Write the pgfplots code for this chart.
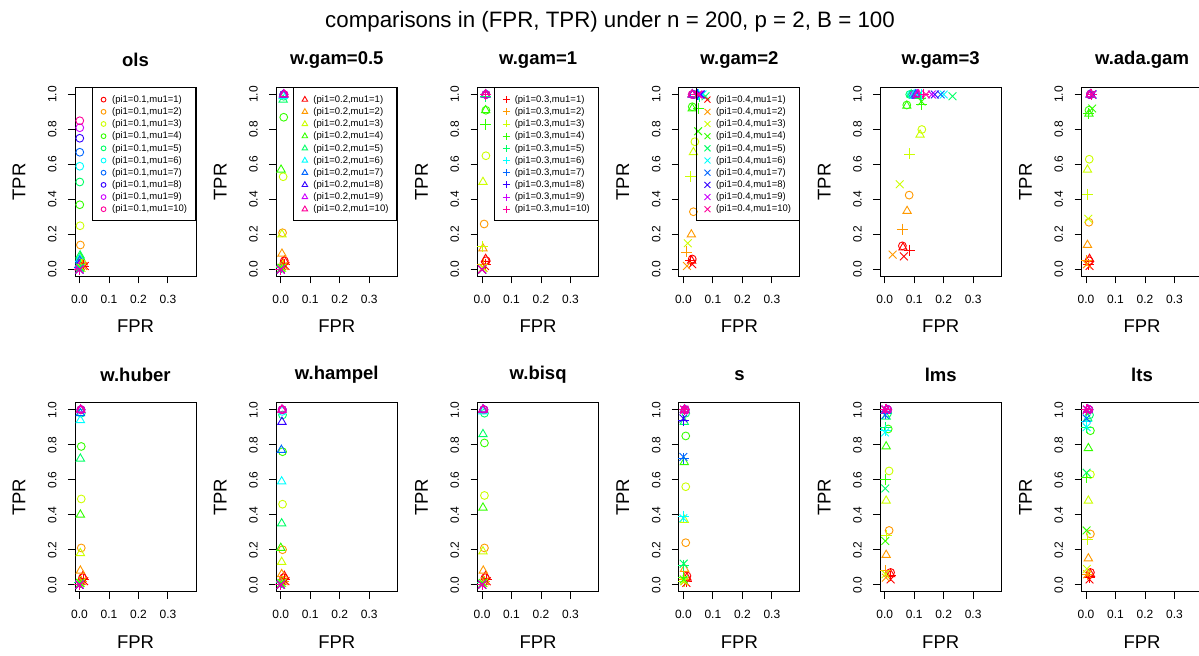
\documentclass[border=0pt]{standalone}
\usepackage{pgfplots}
\pgfplotsset{compat=1.18}
\usepackage{pgfplotstable}
\usepackage{fontspec}
\setmainfont{Liberation Sans}

% rainbow(10)
\definecolor{r1}{HTML}{FF0000}
\definecolor{r2}{HTML}{FF9900}
\definecolor{r3}{HTML}{CCFF00}
\definecolor{r4}{HTML}{33FF00}
\definecolor{r5}{HTML}{00FF66}
\definecolor{r6}{HTML}{00FFFF}
\definecolor{r7}{HTML}{0066FF}
\definecolor{r8}{HTML}{3300FF}
\definecolor{r9}{HTML}{CC00FF}
\definecolor{r10}{HTML}{FF0099}

% a = pi1 0.1 (circle), b = 0.2 (triangle), c = 0.3 (plus), d = 0.4 (cross)
\pgfplotstableread{
c x y
a1 0.004 0.03
a2 0.003 0.14
a3 0.002 0.25
a4 0.001 0.37
a5 0.001 0.50
a6 0.001 0.59
a7 0.001 0.67
a8 0.001 0.75
a9 0.001 0.81
a10 0.001 0.85
b1 0.012 0.04
b2 0.008 0.05
b3 0.005 0.06
b4 0.003 0.07
b5 0.002 0.08
b6 0.001 0.06
b7 0.001 0.05
b8 0.000 0.03
b9 0.000 0.02
b10 0.000 0.01
c1 0.015 0.02
c2 0.010 0.03
c3 0.006 0.03
c4 0.003 0.02
c5 0.002 0.02
c6 0.001 0.01
c7 0.000 0.01
c8 0.000 0.00
c9 0.000 0.00
c10 0.000 0.00
d1 0.018 0.02
d2 0.012 0.02
d3 0.007 0.01
d4 0.003 0.01
d5 0.001 0.01
d6 0.000 0.00
d7 0.000 0.00
d8 0.000 0.00
d9 0.000 0.00
d10 0.000 0.00
}\tols

\pgfplotstableread{
c x y
a1 0.012 0.05
a2 0.006 0.21
a3 0.008 0.53
a4 0.010 0.87
a5 0.010 0.99
a6 0.010 1.00
a7 0.010 1.00
a8 0.010 1.00
a9 0.011 1.00
a10 0.011 1.00
b1 0.012 0.05
b2 0.004 0.09
b3 0.004 0.20
b4 0.001 0.57
b5 0.008 0.97
b6 0.008 0.99
b7 0.009 1.00
b8 0.010 1.00
b9 0.010 1.00
b10 0.011 1.00
c1 0.014 0.03
c2 0.008 0.03
c3 0.004 0.02
c4 0.002 0.01
c5 0.001 0.01
c6 0.000 0.00
c7 0.000 0.00
c8 0.000 0.00
c9 0.000 0.00
c10 0.000 0.00
d1 0.016 0.02
d2 0.010 0.02
d3 0.005 0.01
d4 0.002 0.01
d5 0.001 0.00
d6 0.000 0.00
d7 0.000 0.00
d8 0.000 0.00
d9 0.000 0.00
d10 0.000 0.00
}\tgama

\pgfplotstableread{
c x y
a1 0.014 0.05
a2 0.007 0.26
a3 0.013 0.65
a4 0.013 0.91
a5 0.013 1.00
a6 0.013 1.00
a7 0.013 1.00
a8 0.013 1.00
a9 0.013 1.00
a10 0.013 1.00
b1 0.012 0.06
b2 0.003 0.12
b3 0.003 0.50
b4 0.012 0.91
b5 0.012 1.00
b6 0.012 1.00
b7 0.012 1.00
b8 0.012 1.00
b9 0.012 1.00
b10 0.012 1.00
c1 0.012 0.03
c2 0.003 0.03
c3 0.002 0.13
c4 0.012 0.83
c5 0.012 0.99
c6 0.013 1.00
c7 0.013 1.00
c8 0.013 1.00
c9 0.013 1.00
c10 0.013 1.00
d1 0.010 0.02
d2 0.005 0.01
d3 0.002 0.01
d4 0.001 0.00
d5 0.000 0.00
d6 0.000 0.00
d7 0.000 0.00
d8 0.000 0.00
d9 0.000 0.00
d10 0.000 0.00
}\tgamb

\pgfplotstableread{
c x y
a1 0.030 0.06
a2 0.034 0.33
a3 0.039 0.73
a4 0.030 0.93
a5 0.035 1.00
a6 0.035 1.00
a7 0.035 1.00
a8 0.032 1.00
a9 0.030 1.00
a10 0.030 1.00
b1 0.028 0.05
b2 0.027 0.20
b3 0.034 0.67
b4 0.030 0.92
b5 0.030 1.00
b6 0.030 1.00
b7 0.031 1.00
b8 0.031 1.00
b9 0.030 1.00
b10 0.030 1.00
c1 0.025 0.05
c2 0.010 0.10
c3 0.024 0.53
c4 0.052 0.92
c5 0.055 0.99
c6 0.050 1.00
c7 0.048 1.00
c8 0.047 1.00
c9 0.045 1.00
c10 0.045 1.00
d1 0.030 0.03
d2 0.012 0.02
d3 0.015 0.15
d4 0.050 0.79
d5 0.075 0.99
d6 0.065 1.00
d7 0.060 1.00
d8 0.058 1.00
d9 0.055 1.00
d10 0.050 1.00
}\tgamc

\pgfplotstableread{
c x y
a1 0.060 0.135
a2 0.083 0.425
a3 0.126 0.80
a4 0.075 0.94
a5 0.085 1.00
a6 0.090 1.00
a7 0.095 1.00
a8 0.100 1.00
a9 0.100 1.00
a10 0.105 1.00
b1 0.062 0.125
b2 0.076 0.334
b3 0.120 0.77
b4 0.075 0.935
b5 0.090 1.00
b6 0.100 1.00
b7 0.105 1.00
b8 0.110 1.00
b9 0.110 1.00
b10 0.115 1.00
c1 0.085 0.11
c2 0.060 0.23
c3 0.085 0.66
c4 0.125 0.945
c5 0.120 0.98
c6 0.125 1.00
c7 0.130 1.00
c8 0.130 1.00
c9 0.130 1.00
c10 0.130 1.00
d1 0.065 0.075
d2 0.027 0.085
d3 0.051 0.487
d4 0.125 0.96
d5 0.230 0.99
d6 0.200 1.00
d7 0.190 1.00
d8 0.170 1.00
d9 0.160 1.00
d10 0.140 1.00
}\tgamd

\pgfplotstableread{
c x y
a1 0.010 0.05
a2 0.010 0.27
a3 0.011 0.63
a4 0.010 0.91
a5 0.015 1.00
a6 0.015 1.00
a7 0.015 1.00
a8 0.015 1.00
a9 0.015 1.00
a10 0.015 1.00
b1 0.012 0.06
b2 0.005 0.14
b3 0.005 0.57
b4 0.010 0.89
b5 0.015 1.00
b6 0.015 1.00
b7 0.015 1.00
b8 0.015 1.00
b9 0.015 1.00
b10 0.015 1.00
c1 0.010 0.03
c2 0.001 0.05
c3 0.005 0.43
c4 0.010 0.89
c5 0.020 1.00
c6 0.020 1.00
c7 0.020 1.00
c8 0.020 1.00
c9 0.020 1.00
c10 0.020 1.00
d1 0.012 0.02
d2 0.003 0.03
d3 0.008 0.29
d4 0.021 0.92
d5 0.020 1.00
d6 0.020 1.00
d7 0.022 1.00
d8 0.022 1.00
d9 0.020 1.00
d10 0.020 1.00
}\tada

\pgfplotstableread{
c x y
a1 0.010 0.04
a2 0.006 0.21
a3 0.006 0.49
a4 0.006 0.79
a5 0.006 0.98
a6 0.005 1.00
a7 0.005 1.00
a8 0.005 1.00
a9 0.005 1.00
a10 0.005 1.00
b1 0.012 0.05
b2 0.003 0.08
b3 0.003 0.18
b4 0.003 0.40
b5 0.003 0.72
b6 0.003 0.94
b7 0.003 0.98
b8 0.004 1.00
b9 0.004 1.00
b10 0.004 1.00
c1 0.014 0.03
c2 0.008 0.02
c3 0.004 0.02
c4 0.002 0.01
c5 0.001 0.01
c6 0.000 0.00
c7 0.000 0.00
c8 0.000 0.00
c9 0.000 0.00
c10 0.000 0.00
d1 0.016 0.02
d2 0.010 0.02
d3 0.005 0.01
d4 0.002 0.01
d5 0.001 0.00
d6 0.000 0.00
d7 0.000 0.00
d8 0.000 0.00
d9 0.000 0.00
d10 0.000 0.00
}\thuber

\pgfplotstableread{
c x y
a1 0.010 0.04
a2 0.006 0.20
a3 0.006 0.46
a4 0.006 0.76
a5 0.006 0.97
a6 0.005 0.99
a7 0.005 1.00
a8 0.005 1.00
a9 0.005 1.00
a10 0.005 1.00
b1 0.012 0.05
b2 0.003 0.06
b3 0.003 0.13
b4 0.000 0.21
b5 0.003 0.35
b6 0.003 0.59
b7 0.002 0.77
b8 0.004 0.93
b9 0.004 1.00
b10 0.004 1.00
c1 0.014 0.03
c2 0.008 0.02
c3 0.004 0.02
c4 0.002 0.01
c5 0.001 0.01
c6 0.000 0.00
c7 0.000 0.00
c8 0.000 0.00
c9 0.000 0.00
c10 0.000 0.00
d1 0.016 0.02
d2 0.010 0.02
d3 0.005 0.01
d4 0.002 0.01
d5 0.001 0.00
d6 0.000 0.00
d7 0.000 0.00
d8 0.000 0.00
d9 0.000 0.00
d10 0.000 0.00
}\thampel

\pgfplotstableread{
c x y
a1 0.010 0.04
a2 0.008 0.21
a3 0.008 0.51
a4 0.008 0.81
a5 0.008 0.98
a6 0.006 1.00
a7 0.006 1.00
a8 0.006 1.00
a9 0.006 1.00
a10 0.006 1.00
b1 0.012 0.05
b2 0.004 0.08
b3 0.003 0.19
b4 0.003 0.44
b5 0.003 0.86
b6 0.003 0.99
b7 0.003 1.00
b8 0.003 1.00
b9 0.003 1.00
b10 0.003 1.00
c1 0.014 0.03
c2 0.008 0.02
c3 0.004 0.02
c4 0.002 0.01
c5 0.001 0.01
c6 0.000 0.00
c7 0.000 0.00
c8 0.000 0.00
c9 0.000 0.00
c10 0.000 0.00
d1 0.016 0.02
d2 0.010 0.02
d3 0.005 0.01
d4 0.002 0.01
d5 0.001 0.00
d6 0.000 0.00
d7 0.000 0.00
d8 0.000 0.00
d9 0.000 0.00
d10 0.000 0.00
}\tbisq

\pgfplotstableread{
c x y
a1 0.012 0.05
a2 0.008 0.24
a3 0.008 0.56
a4 0.008 0.85
a5 0.008 0.98
a6 0.006 1.00
a7 0.006 1.00
a8 0.006 1.00
a9 0.006 1.00
a10 0.006 1.00
b1 0.012 0.04
b2 0.004 0.09
b3 0.003 0.37
b4 0.003 0.70
b5 0.003 0.93
b6 0.004 1.00
b7 0.004 1.00
b8 0.004 1.00
b9 0.004 1.00
b10 0.004 1.00
c1 0.010 0.02
c2 0.004 0.03
c3 0.002 0.02
c4 0.001 0.04
c5 0.001 0.11
c6 0.000 0.39
c7 0.000 0.72
c8 0.000 0.94
c9 0.003 1.00
c10 0.003 1.00
d1 0.010 0.01
d2 0.004 0.02
d3 0.002 0.02
d4 0.001 0.03
d5 0.001 0.12
d6 0.000 0.38
d7 0.000 0.73
d8 0.000 0.95
d9 0.003 1.00
d10 0.003 1.00
}\ts

\pgfplotstableread{
c x y
a1 0.020 0.07
a2 0.015 0.31
a3 0.015 0.65
a4 0.012 0.89
a5 0.010 0.98
a6 0.010 1.00
a7 0.010 1.00
a8 0.010 1.00
a9 0.010 1.00
a10 0.010 1.00
b1 0.020 0.06
b2 0.005 0.17
b3 0.005 0.48
b4 0.005 0.79
b5 0.005 0.96
b6 0.006 1.00
b7 0.006 1.00
b8 0.006 1.00
b9 0.006 1.00
b10 0.006 1.00
c1 0.020 0.05
c2 0.002 0.08
c3 0.005 0.28
c4 0.003 0.60
c5 0.003 0.90
c6 0.002 0.88
c7 0.003 0.98
c8 0.004 1.00
c9 0.004 1.00
c10 0.004 1.00
d1 0.020 0.03
d2 0.004 0.04
d3 0.003 0.06
d4 0.002 0.25
d5 0.002 0.55
d6 0.001 0.87
d7 0.002 0.97
d8 0.003 1.00
d9 0.003 1.00
d10 0.003 1.00
}\tlms

\pgfplotstableread{
c x y
a1 0.015 0.07
a2 0.015 0.29
a3 0.015 0.63
a4 0.015 0.88
a5 0.012 0.97
a6 0.010 1.00
a7 0.010 1.00
a8 0.010 1.00
a9 0.010 1.00
a10 0.010 1.00
b1 0.015 0.06
b2 0.008 0.15
b3 0.008 0.48
b4 0.008 0.78
b5 0.006 0.95
b6 0.006 1.00
b7 0.006 1.00
b8 0.006 1.00
b9 0.006 1.00
b10 0.006 1.00
c1 0.012 0.04
c2 0.004 0.06
c3 0.004 0.26
c4 0.003 0.61
c5 0.002 0.90
c6 0.002 0.93
c7 0.003 1.00
c8 0.003 1.00
c9 0.003 1.00
c10 0.003 1.00
d1 0.012 0.03
d2 0.004 0.06
d3 0.003 0.09
d4 0.002 0.31
d5 0.002 0.64
d6 0.002 0.90
d7 0.002 0.95
d8 0.003 1.00
d9 0.003 1.00
d10 0.003 1.00
}\tlts

\tikzset{
  mko/.style={mark=o, mark size=3.9bp},
  mkt/.style={mark=triangle, mark size=4.8bp},
  mkp/.style={mark=+, mark size=5.5bp},
  mkx/.style={mark=x, mark size=5.5bp},
}

\pgfplotsset{
  legimg/.style={legend image code/.code={%
    \path[draw=none, fill=none] (-1bp,-3bp) rectangle (7bp,3bp);
    \draw plot coordinates {(0bp,0bp)};}},
  panel/.style={
    scale only axis, width=121bp, height=189bp,
    xmin=-0.0152, xmax=0.3952, ymin=-0.04, ymax=1.04,
    xtick={0,0.1,0.2,0.3}, xticklabels={0.0,0.1,0.2,0.3},
    ytick={0,0.2,0.4,0.6,0.8,1}, yticklabels={0.0,0.2,0.4,0.6,0.8,1.0},
    tick pos=left, tick align=outside, major tick length=7bp,
    axis line style={line width=0.9bp, black},
    tick style={line width=0.9bp, black},
    tick label style={font=\fontsize{12bp}{14bp}\selectfont},
    xticklabel style={yshift=-8bp},
    yticklabel style={xshift=-8bp, rotate=90, anchor=south},
    xlabel=FPR, ylabel=TPR,
    label style={font=\fontsize{18.5bp}{20bp}\selectfont},
    xlabel style={at={(axis description cs:0.5,-0.265)}, anchor=center},
    ylabel style={at={(axis description cs:-0.463,0.5)}, anchor=center},
    title style={at={(axis description cs:0.5,1.114)}, anchor=center,
      font=\bfseries\fontsize{18.5bp}{20bp}\selectfont},
    legend cell align=left,
    legend style={at={(1,1)}, anchor=north east, draw=black,
      line width=0.9bp, fill=none,
      font=\fontsize{9.5bp}{11bp}\selectfont,
      inner xsep=8.4bp, inner ysep=7.5bp, row sep=3.8bp, column sep=1.6bp,
      nodes={inner sep=0pt}},
  },
  pts/.style={scatter, only marks, scatter src=explicit symbolic,
    line width=0.9bp, forget plot,
    scatter/classes={
      a1={mko,color=r1}, a2={mko,color=r2}, a3={mko,color=r3}, a4={mko,color=r4}, a5={mko,color=r5},
      a6={mko,color=r6}, a7={mko,color=r7}, a8={mko,color=r8}, a9={mko,color=r9}, a10={mko,color=r10},
      b1={mkt,color=r1}, b2={mkt,color=r2}, b3={mkt,color=r3}, b4={mkt,color=r4}, b5={mkt,color=r5},
      b6={mkt,color=r6}, b7={mkt,color=r7}, b8={mkt,color=r8}, b9={mkt,color=r9}, b10={mkt,color=r10},
      c1={mkp,color=r1}, c2={mkp,color=r2}, c3={mkp,color=r3}, c4={mkp,color=r4}, c5={mkp,color=r5},
      c6={mkp,color=r6}, c7={mkp,color=r7}, c8={mkp,color=r8}, c9={mkp,color=r9}, c10={mkp,color=r10},
      d1={mkx,color=r1}, d2={mkx,color=r2}, d3={mkx,color=r3}, d4={mkx,color=r4}, d5={mkx,color=r5},
      d6={mkx,color=r6}, d7={mkx,color=r7}, d8={mkx,color=r8}, d9={mkx,color=r9}, d10={mkx,color=r10}}},
}

% legend rows: #1 mark options, #2 pi1
\newcommand\legset[2]{%
  \addlegendimage{#1, draw=r1, line width=0.9bp, legimg}\addlegendentry{(pi1=#2,mu1=1)}
  \addlegendimage{#1, draw=r2, line width=0.9bp, legimg}\addlegendentry{(pi1=#2,mu1=2)}
  \addlegendimage{#1, draw=r3, line width=0.9bp, legimg}\addlegendentry{(pi1=#2,mu1=3)}
  \addlegendimage{#1, draw=r4, line width=0.9bp, legimg}\addlegendentry{(pi1=#2,mu1=4)}
  \addlegendimage{#1, draw=r5, line width=0.9bp, legimg}\addlegendentry{(pi1=#2,mu1=5)}
  \addlegendimage{#1, draw=r6, line width=0.9bp, legimg}\addlegendentry{(pi1=#2,mu1=6)}
  \addlegendimage{#1, draw=r7, line width=0.9bp, legimg}\addlegendentry{(pi1=#2,mu1=7)}
  \addlegendimage{#1, draw=r8, line width=0.9bp, legimg}\addlegendentry{(pi1=#2,mu1=8)}
  \addlegendimage{#1, draw=r9, line width=0.9bp, legimg}\addlegendentry{(pi1=#2,mu1=9)}
  \addlegendimage{#1, draw=r10, line width=0.9bp, legimg}\addlegendentry{(pi1=#2,mu1=10)}
}

\begin{document}
\begin{tikzpicture}
\useasboundingbox (0,0) rectangle (1199bp,656bp);
\node[font=\fontsize{22.3bp}{26bp}\selectfont] at (610bp,634bp)
  {comparisons in (FPR, TPR) under n = 200, p = 2, B = 100};

% top row
\begin{axis}[panel, at={(75bp,379.5bp)}, anchor=south west, title={ols}]
  \legset{mark=o, mark size=2.4bp}{0.1}
  \addplot[pts] table[x=x, y=y, meta=c] {\tols};
\end{axis}
\begin{axis}[panel, at={(276.3bp,379.5bp)}, anchor=south west, title={w.gam=0.5}]
  \legset{mark=triangle, mark size=3.2bp}{0.2}
  \addplot[pts] table[x=x, y=y, meta=c] {\tgama};
\end{axis}
\begin{axis}[panel, at={(477.6bp,379.5bp)}, anchor=south west, title={w.gam=1}]
  \legset{mark=+, mark size=3.5bp}{0.3}
  \addplot[pts] table[x=x, y=y, meta=c] {\tgamb};
\end{axis}
\begin{axis}[panel, at={(678.9bp,379.5bp)}, anchor=south west, title={w.gam=2}]
  \legset{mark=x, mark size=4.2bp}{0.4}
  \addplot[pts] table[x=x, y=y, meta=c] {\tgamc};
\end{axis}
\begin{axis}[panel, at={(880.2bp,379.5bp)}, anchor=south west, title={w.gam=3}]
  \addplot[pts] table[x=x, y=y, meta=c] {\tgamd};
\end{axis}
\begin{axis}[panel, at={(1081.5bp,379.5bp)}, anchor=south west, title={w.ada.gam}]
  \addplot[pts] table[x=x, y=y, meta=c] {\tada};
\end{axis}

% bottom row
\begin{axis}[panel, at={(75bp,64.3bp)}, anchor=south west, title={w.huber}]
  \addplot[pts] table[x=x, y=y, meta=c] {\thuber};
\end{axis}
\begin{axis}[panel, at={(276.3bp,64.3bp)}, anchor=south west, title={w.hampel}]
  \addplot[pts] table[x=x, y=y, meta=c] {\thampel};
\end{axis}
\begin{axis}[panel, at={(477.6bp,64.3bp)}, anchor=south west, title={w.bisq}]
  \addplot[pts] table[x=x, y=y, meta=c] {\tbisq};
\end{axis}
\begin{axis}[panel, at={(678.9bp,64.3bp)}, anchor=south west, title={s}]
  \addplot[pts] table[x=x, y=y, meta=c] {\ts};
\end{axis}
\begin{axis}[panel, at={(880.2bp,64.3bp)}, anchor=south west, title={lms}]
  \addplot[pts] table[x=x, y=y, meta=c] {\tlms};
\end{axis}
\begin{axis}[panel, at={(1081.5bp,64.3bp)}, anchor=south west, title={lts}]
  \addplot[pts] table[x=x, y=y, meta=c] {\tlts};
\end{axis}
\end{tikzpicture}
\end{document}
